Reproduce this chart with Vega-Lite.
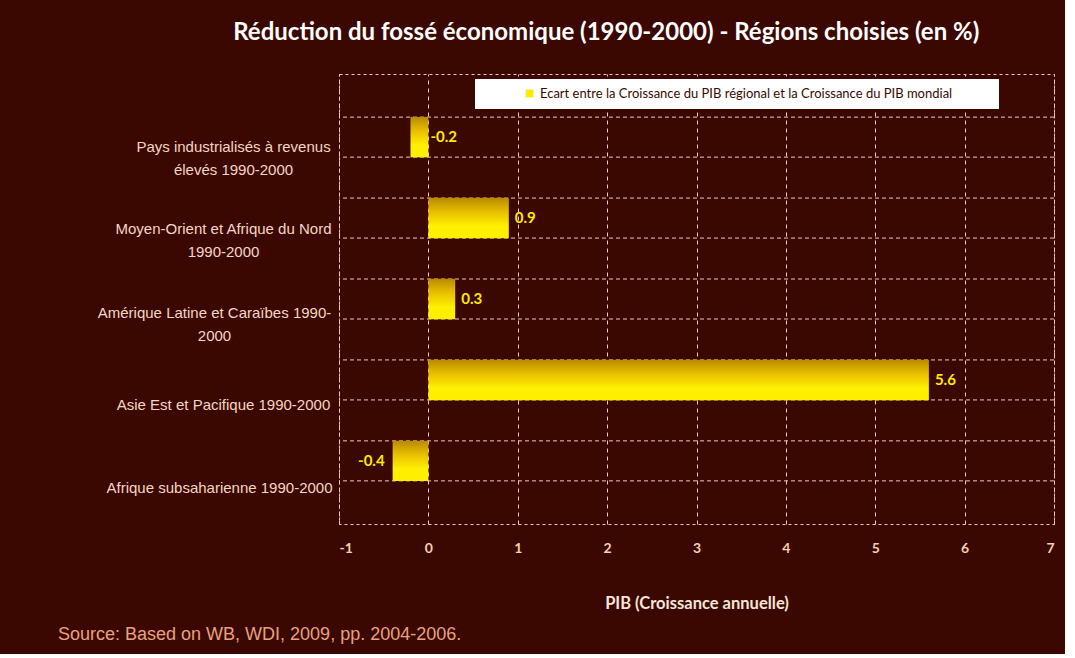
{
  "$schema": "https://vega.github.io/schema/vega-lite/v6.json",
  "background": "#3a0800",
  "padding": {"left": 57, "top": 20, "right": 10, "bottom": 10},
  "title": {
    "text": "Réduction du fossé économique (1990-2000) - Régions choisies (en %)",
    "font": "Lato",
    "fontSize": 24,
    "fontWeight": "bold",
    "color": "#ffffff",
    "anchor": "middle",
    "dx": 50,
    "offset": 29
  },
  "config": {
    "view": {"stroke": "#f0c8b8", "strokeDash": [3, 3], "strokeWidth": 1}
  },
  "vconcat": [
    {
      "width": 715,
      "height": 450,
      "title": {
        "text": "Source: Based on WB, WDI, 2009, pp. 2004-2006.",
        "orient": "bottom",
        "anchor": "start",
        "frame": "group",
        "dx": -281,
        "offset": 14,
        "font": "Liberation Sans",
        "fontSize": 18,
        "fontWeight": "normal",
        "color": "#e8a080"
      },
      "data": {
        "values": [
          {"region": "Pays industrialisés à revenus élevés 1990-2000", "value": -0.2, "serie": "Ecart entre la Croissance du PIB régional et la Croissance du PIB mondial"},
          {"region": "Moyen-Orient et Afrique du Nord 1990-2000", "value": 0.9, "serie": "Ecart entre la Croissance du PIB régional et la Croissance du PIB mondial"},
          {"region": "Amérique Latine et Caraïbes 1990-2000", "value": 0.3, "serie": "Ecart entre la Croissance du PIB régional et la Croissance du PIB mondial"},
          {"region": "Asie Est et Pacifique 1990-2000", "value": 5.6, "serie": "Ecart entre la Croissance du PIB régional et la Croissance du PIB mondial"},
          {"region": "Afrique subsaharienne 1990-2000", "value": -0.4, "serie": "Ecart entre la Croissance du PIB régional et la Croissance du PIB mondial"}
        ]
      },
      "encoding": {
        "y": {
          "field": "region",
          "type": "nominal",
          "sort": null,
          "scale": {"paddingInner": 0.5, "paddingOuter": 0.53},
          "axis": {
            "title": null,
            "domain": false,
            "ticks": false,
            "grid": false,
            "labelFont": "Liberation Sans",
            "labelFontSize": 15,
            "labelColor": "#f5d5c5",
            "labelLimit": 400,
            "labelLineHeight": 23,
            "labelBaseline": "middle",
            "labelOffset": {
              "condition": [
                {"test": "datum.value == 'Pays industrialisés à revenus élevés 1990-2000'", "value": 10},
                {"test": "datum.value == 'Moyen-Orient et Afrique du Nord 1990-2000'", "value": 11},
                {"test": "datum.value == 'Amérique Latine et Caraïbes 1990-2000'", "value": 14},
                {"test": "datum.value == 'Asie Est et Pacifique 1990-2000'", "value": 25}
              ],
              "value": 27
            },
            "labelAlign": "center",
            "labelPadding": {
              "condition": [
                {"test": "datum.value == 'Pays industrialisés à revenus élevés 1990-2000'", "value": 106},
                {"test": "datum.value == 'Moyen-Orient et Afrique du Nord 1990-2000'", "value": 116},
                {"test": "datum.value == 'Amérique Latine et Caraïbes 1990-2000'", "value": 125},
                {"test": "datum.value == 'Asie Est et Pacifique 1990-2000'", "value": 116}
              ],
              "value": 120
            },
            "labelExpr": "datum.value == 'Pays industrialisés à revenus élevés 1990-2000' ? ['Pays industrialisés à revenus', 'élevés 1990-2000'] : datum.value == 'Moyen-Orient et Afrique du Nord 1990-2000' ? ['Moyen-Orient et Afrique du Nord', '1990-2000'] : datum.value == 'Amérique Latine et Caraïbes 1990-2000' ? ['Amérique Latine et Caraïbes 1990-', '2000'] : datum.label"
          }
        }
      },
      "layer": [
        {
          "mark": {"type": "rule", "yOffset": -20, "color": "#f0c8b8", "strokeDash": [4, 3], "strokeWidth": 1},
          "encoding": {"y": {"field": "region", "type": "nominal", "sort": null}}
        },
        {
          "mark": {"type": "rule", "yOffset": 20, "color": "#f0c8b8", "strokeDash": [4, 3], "strokeWidth": 1},
          "encoding": {"y": {"field": "region", "type": "nominal", "sort": null}}
        },
        {
          "mark": {
            "type": "bar",
            "fill": {
              "gradient": "linear",
              "x1": 0, "y1": 0, "x2": 0, "y2": 1,
              "stops": [
                {"offset": 0, "color": "#b88a00"},
                {"offset": 0.35, "color": "#e8c000"},
                {"offset": 0.7, "color": "#fff000"},
                {"offset": 1, "color": "#ffee00"}
              ]
            }
          },
          "encoding": {
            "x": {
              "field": "value",
              "type": "quantitative",
              "scale": {"domain": [-1, 7], "nice": false, "zero": false},
              "axis": {
                "values": [-1, 0, 1, 2, 3, 4, 5, 6, 7],
                "labelExpr": "toString(datum.value)",
                "grid": true,
                "gridColor": "#f0c8b8",
                "gridDash": [4, 4],
                "gridWidth": 1,
                "domain": false,
                "ticks": false,
                "labelFont": "Lato",
                "labelFontSize": 14,
                "labelFontWeight": "bold",
                "labelColor": "#f5cfb0",
                "labelPadding": 17,
                "title": "PIB (Croissance annuelle)",
                "titleFont": "Lato",
                "titleFontSize": 16.5,
                "titleFontWeight": "bold",
                "titleColor": "#f8e4d8",
                "titlePadding": 40
              }
            }
          }
        },
        {
          "mark": {
            "type": "text",
            "font": "Lato",
            "fontSize": 15,
            "fontWeight": "bold",
            "baseline": "middle",
            "align": {"expr": "datum.value < -0.3 ? 'right' : 'left'"},
            "dx": {"expr": "datum.value >= 0 ? 6 : (datum.value > -0.3 ? 20 : -8)"}
          },
          "encoding": {
            "x": {"field": "value", "type": "quantitative"},
            "text": {"field": "value", "type": "nominal"},
            "color": {
              "field": "serie",
              "type": "nominal",
              "scale": {"range": ["#ffea00"]},
              "legend": {
                "orient": "none",
                "legendX": 136,
                "legendY": 5,
                "title": ".",
                "titleOrient": "right",
                "titleColor": "#ffffff",
                "titleFontSize": 10,
                "titlePadding": 36,
                "fillColor": "#ffffff",
                "padding": 8,
                "symbolType": "square",
                "symbolSize": 60,
                "symbolOffset": 40,
                "labelOffset": 4,
                "labelFont": "Lato",
                "labelFontSize": 13,
                "labelColor": "#3a0800",
                "labelLimit": 800
              }
            }
          }
        }
      ]
    }
  ]
}
